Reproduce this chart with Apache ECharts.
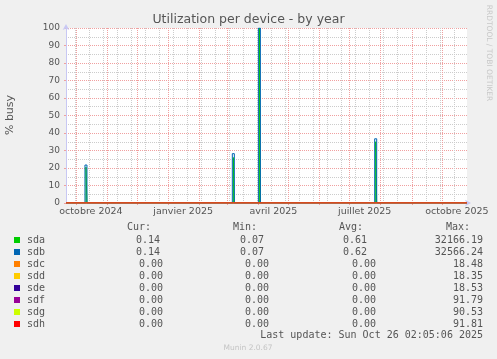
<!DOCTYPE html>
<html><head><meta charset="utf-8">
<script src="https://cdn.jsdelivr.net/npm/echarts@6/dist/echarts.min.js"></script>
<style>html,body{margin:0;padding:0;background:#F0F0F0;}#c{width:497px;height:359px;}</style>
</head><body><div id="c"></div>
<script>
// ---- data ----
const timeStart = '2024-09-21 02:05';
const timeEnd = '2025-10-26 02:05';
const devices = ['sda', 'sdb', 'sdc', 'sdd', 'sde', 'sdf', 'sdg', 'sdh'];
const colors = ['#00CC00', '#0066B3', '#FF8000', '#FFCC00', '#330099', '#990099', '#CCFF00', '#FF0000'];
const sdaData = [
  ['2024-09-21 02:05', 0],
  ['2024-10-11', 20.5], ['2024-10-12', 0],
  ['2025-03-07', 26.0], ['2025-03-08', 0],
  ['2025-04-02', 100], ['2025-04-03', 0],
  ['2025-07-27', 35.0], ['2025-07-28', 0],
  ['2025-10-26 02:05', 0]
];
const sdbData = [
  ['2024-09-21 02:05', 0],
  ['2024-10-10', 21.7], ['2024-10-12', 0],
  ['2025-03-06', 28.2], ['2025-03-08', 0],
  ['2025-04-01', 100], ['2025-04-03', 0],
  ['2025-07-26', 36.7], ['2025-07-28', 0],
  ['2025-10-26 02:05', 0]
];
const sdcData = [['2024-09-21 02:05', 0], ['2025-10-26 02:05', 0]];
const sddData = [['2024-09-21 02:05', 0], ['2025-10-26 02:05', 0]];
const sdeData = [['2024-09-21 02:05', 0], ['2025-10-26 02:05', 0]];
const sdfData = [['2024-09-21 02:05', 0], ['2025-10-26 02:05', 0]];
const sdgData = [['2024-09-21 02:05', 0], ['2025-10-26 02:05', 0]];
const sdhData = [['2024-09-21 02:05', 0], ['2025-10-26 02:05', 0]];
const curVals = [0.14, 0.14, 0.00, 0.00, 0.00, 0.00, 0.00, 0.00];
const minVals = [0.07, 0.07, 0.00, 0.00, 0.00, 0.00, 0.00, 0.00];
const avgVals = [0.61, 0.62, 0.00, 0.00, 0.00, 0.00, 0.00, 0.00];
const maxVals = [32166.19, 32566.24, 18.48, 18.35, 18.53, 91.79, 90.53, 91.81];
const yTicks = [0, 10, 20, 30, 40, 50, 60, 70, 80, 90, 100];
const monthStarts = ['2024-10-01', '2024-11-01', '2024-12-01', '2025-01-01', '2025-02-01', '2025-03-01', '2025-04-01',
  '2025-05-01', '2025-06-01', '2025-07-01', '2025-08-01', '2025-09-01', '2025-10-01'];
const biweekly = ['2024-09-30', '2024-10-14', '2024-10-28', '2024-11-11', '2024-11-25', '2024-12-09', '2024-12-23',
  '2025-01-06', '2025-01-20', '2025-02-03', '2025-02-17', '2025-03-03', '2025-03-17', '2025-03-31', '2025-04-14',
  '2025-04-28', '2025-05-12', '2025-05-26', '2025-06-09', '2025-06-23', '2025-07-07', '2025-07-21', '2025-08-04',
  '2025-08-18', '2025-09-01', '2025-09-15', '2025-09-29', '2025-10-13'];
const labelDates = ['2024-10-16', '2025-01-16', '2025-04-16', '2025-07-16', '2025-10-16'];
const labelTexts = ['octobre 2024', 'janvier 2025', 'avril 2025', 'juillet 2025', 'octobre 2025'];
const seriesData = [sdaData, sdbData, sdcData, sddData, sdeData, sdfData, sdgData, sdhData];

// ---- helpers ----
function ts(s) {
  const m = /^(\d{4})-(\d{2})-(\d{2})(?: (\d{2}):(\d{2}))?$/.exec(s);
  return new Date(+m[1], +m[2] - 1, +m[3], m[4] ? +m[4] : 0, m[5] ? +m[5] : 0).getTime();
}
const labelTs = labelDates.map(ts);
function labelFor(v) {
  for (let i = 0; i < labelTs.length; i++) if (Math.abs(labelTs[i] - v) < 3600000) return labelTexts[i];
  return '';
}

// ---- chart ----
const chart = echarts.init(document.getElementById('c'), null, {renderer: 'canvas'});
const FONT = 'DejaVu Sans';
const MONO = 'DejaVu Sans Mono';
const redGrid = '#F0A0A0';
const greyGrid = '#CCCCCC';
const axisCol = '#C8C8F4';

const graphic = [];
function txt(text, x, y, align, font, fill) {
  graphic.push({type: 'text', x: x, y: y, silent: true,
    style: {text: text, font: font, fill: fill, align: align, verticalAlign: 'middle',
      textAlign: align, textVerticalAlign: 'middle'}});
}
const monoFont = '10px "' + MONO + '"';
const txtCol = '#555555';
txt('Cur:', 151, 227.3, 'right', monoFont, txtCol);
txt('Min:', 257, 227.3, 'right', monoFont, txtCol);
txt('Avg:', 363, 227.3, 'right', monoFont, txtCol);
txt('Max:', 470, 227.3, 'right', monoFont, txtCol);
devices.forEach(function (name, i) {
  const y = 240 + 12 * i;
  graphic.push({type: 'rect', silent: true, shape: {x: 14, y: y - 3, width: 6, height: 6}, style: {fill: colors[i]}});
  txt(name, 27, y, 'left', monoFont, txtCol);
  const nz = curVals[i] !== 0;
  txt(curVals[i].toFixed(2), nz ? 160 : 163, y, 'right', monoFont, txtCol);
  txt(minVals[i].toFixed(2), nz ? 264 : 269, y, 'right', monoFont, txtCol);
  txt(avgVals[i].toFixed(2), nz ? 367 : 376, y, 'right', monoFont, txtCol);
  txt(maxVals[i].toFixed(2), 483, y, 'right', monoFont, txtCol);
});
txt('Last update: Sun Oct 26 02:05:06 2025', 483, 335.7, 'right', monoFont, txtCol);
txt('Munin 2.0.67', 248, 347.7, 'center', '7.5px "' + FONT + '"', '#C4C4C4');
graphic.push({type: 'text', x: 10.5, y: 115, rotation: Math.PI / 2, silent: true,
  style: {text: '% busy', font: '11px "' + FONT + '"', fill: txtCol, align: 'center', verticalAlign: 'middle',
    textAlign: 'center', textVerticalAlign: 'middle'}});
graphic.push({type: 'text', x: 488.5, y: 53, rotation: -Math.PI / 2, silent: true,
  style: {text: 'RRDTOOL / TOBI OETIKER', font: '7.5px "' + FONT + '"', fill: '#C8C8C8', align: 'center', verticalAlign: 'middle',
    textAlign: 'center', textVerticalAlign: 'middle'}});

const xMin = ts(timeStart), xMax = ts(timeEnd);
const option = {
  animation: false,
  backgroundColor: '#F0F0F0',
  title: {
    text: 'Utilization per device - by year', left: 'center', top: 13, padding: 0,
    textStyle: {fontFamily: FONT, fontSize: 12.5, fontWeight: 'normal', color: '#555555'}
  },
  grid: {left: 66, right: 30, top: 28, bottom: 156, show: true, backgroundColor: '#FFFFFF', borderWidth: 0},
  xAxis: [
    {
      type: 'value', min: xMin, max: xMax, position: 'top',
      axisLine: {show: false}, axisLabel: {show: false},
      axisTick: {show: false, customValues: biweekly.map(ts)},
      splitLine: {show: true, lineStyle: {color: greyGrid, width: 1, type: [1, 1]}}
    },
    {
      type: 'value', min: xMin, max: xMax, position: 'bottom',
      axisLine: {show: true, symbol: ['none', 'arrow'], symbolSize: [5, 6], symbolOffset: [0, 4],
        lineStyle: {color: axisCol, width: 1}},
      axisTick: {show: true, length: 2, customValues: monthStarts.map(ts), lineStyle: {color: redGrid}},
      axisLabel: {customValues: labelTs, formatter: labelFor, fontFamily: FONT, fontSize: 9.5, color: txtCol, margin: 4,
        hideOverlap: false, showMinLabel: true, showMaxLabel: true},
      splitLine: {show: true, lineStyle: {color: redGrid, width: 1, type: [1, 1]}}
    }
  ],
  yAxis: {
    type: 'value', min: 0, max: 100, interval: 10,
    axisLine: {show: true, symbol: ['none', 'arrow'], symbolSize: [5, 6], symbolOffset: [0, 4],
      lineStyle: {color: axisCol, width: 1}},
    axisTick: {show: true, length: 2, lineStyle: {color: redGrid}},
    axisLabel: {fontFamily: FONT, fontSize: 9, color: txtCol, margin: 6,
      formatter: function (v) { return yTicks.indexOf(v) >= 0 ? String(v) : ''; }},
    splitLine: {show: true, lineStyle: {color: redGrid, width: 1, type: [1, 1]}},
    minorTick: {show: false, splitNumber: 2},
    minorSplitLine: {show: true, lineStyle: {color: greyGrid, width: 1, type: [1, 1]}}
  },
  series: devices.map(function (name, i) {
    return {
      name: name, type: 'line', xAxisIndex: 1,
      data: seriesData[i].map(function (p) { return [ts(p[0]), p[1]]; }), step: 'end',
      symbol: 'none', showSymbol: false, clip: true,
      lineStyle: {color: colors[i], width: 1}, itemStyle: {color: colors[i]}
    };
  }),
  graphic: graphic
};
chart.setOption(option);
</script></body></html>
